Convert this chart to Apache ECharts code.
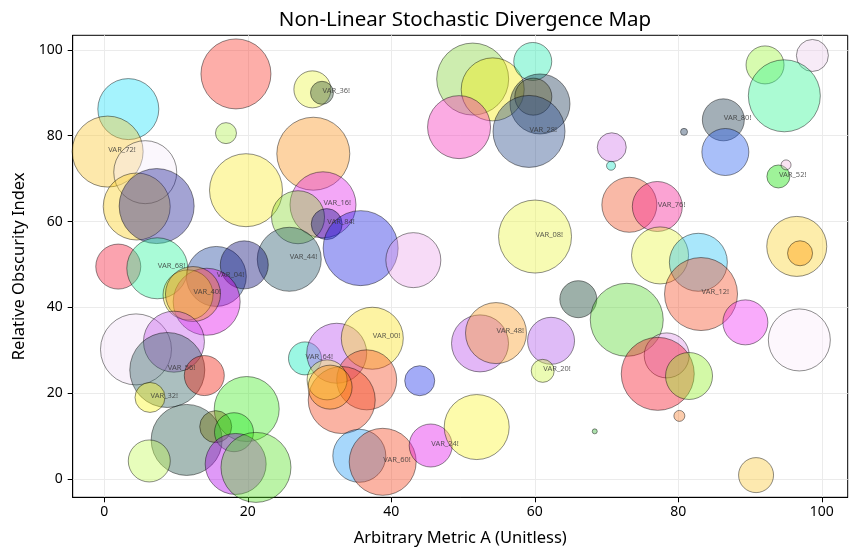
<!DOCTYPE html>
<html><head><meta charset="utf-8">
<script src="https://cdn.jsdelivr.net/npm/echarts@6/dist/echarts.min.js"></script>
<style>html,body{margin:0;padding:0;background:#fff}#c{width:857px;height:557px}</style>
</head><body><div id="c"></div>
<script>
const xValues = [18.35,3.35,0.47,5.71,4.52,7.30,16.96,19.75,29.0,30.34,29.13,30.48,27.0,31.0,25.78,35.73,43.07,1.95,7.39,15.61,19.51,14.27,11.67,12.36,4.42,9.71,8.78,13.94,6.37,19.85,11.48,15.53,18.08,6.27,18.31,21.14,27.97,32.39,37.35,36.57,33.09,31.05,31.47,43.96,35.54,38.8,45.49,51.9,52.36,54.59,62.26,61.1,66.06,51.34,54.13,49.44,59.71,60.72,59.79,59.19,60.03,92.08,98.68,94.77,86.27,86.55,80.79,70.72,70.62,93.94,95.01,73.17,77.07,96.5,96.96,77.45,82.79,83.16,89.34,72.81,78.38,77.13,81.49,96.86,80.14,68.35,90.83];
const yValues = [94.4,86.2,76.3,71.5,63.5,63.6,80.6,67.3,90.8,90.0,75.8,63.9,61.0,59.4,51.2,53.8,51.0,49.5,49.1,47.2,49.9,41.3,42.9,43.1,30.2,32.0,25.4,24.1,19.0,16.3,9.1,12.2,10.9,4.2,3.5,2.7,28.1,29.3,32.8,23.1,18.4,23.1,21.4,22.9,5.4,4.0,7.8,12.1,31.6,34.0,32.2,25.2,41.9,93.2,90.8,82.0,97.3,87.4,89.1,81.0,56.5,96.5,98.7,89.3,83.7,76.2,80.9,77.3,73.0,70.5,73.2,63.9,63.5,54.2,52.6,52.1,50.5,43.1,36.5,37.1,28.8,24.5,24.0,32.4,14.7,11.1,0.9];
const bubbleSizes = [70,61,71,63,67,75,21,73,37,23,73,66,53,31,64,75,55,45,61,60,48,67,50,55,71,61,75,40,30,65,71,32,39,42,61,70,33,60,62,60,67,40,44,30,53,67,43,65,57,61,47,23,37,72,63,63,38,60,37,72,73,38,32,72,42,47,7,29,9,23,10,55,50,60,25,57,58,73,45,73,45,73,47,62,11,5,35];
const bubbleColors = ['#f93527','#1fe1f9','#fbc52d','#f5ebfb','#fbcd19','#191991','#aff14b','#fbeb2d','#ebf541','#335533','#f99119','#e123eb','#87d72d','#10108a','#235569','#191fe1','#eba5eb','#f51937','#29f59b','#19419b','#050573','#e105eb','#f5e61e','#eb8719','#f1ddf5','#c355eb','#2d5f5f','#f31705','#fbf519','#41eb23','#23554b','#6b6b00','#1ee61e','#c3fb55','#af00eb','#55e123','#05ebb9','#b94bf1','#fbe119','#f3471f','#f34119','#f0f050','#ff8c00','#192deb','#239bf5','#f54119','#e10feb','#fbf52d','#b94beb','#f99b23','#af55eb','#cdf541','#0a3a28','#81d337','#f5eb05','#f52db9','#23ebaf','#193755','#5a5a28','#234587','#ebf541','#9bf537','#ebcdeb','#2df591','#19374b','#295ff1','#19375a','#d179eb','#1ee6c8','#0fe100','#f5b9e1','#f15123','#f51991','#fbd12d','#ff9900','#e9f541','#29c3f5','#f54b23','#f12df5','#55d72d','#dd91e7','#f50f23','#91f123','#f9ebf9','#f57d2d','#32b432','#fbc937'];
const bubbleLabels = ['','','VAR_72!','','','','','','','VAR_36!','','VAR_16!','','VAR_84!','VAR_44!','','','','VAR_68!','VAR_04!','','','','VAR_40!','','','VAR_56!','','VAR_32!','','','','','','','','VAR_64!','','VAR_00!','','','','','','','VAR_60!','VAR_24!','','','VAR_48!','','VAR_20!','','','','','','','','VAR_28!','VAR_08!','','','','VAR_80!','','','','','VAR_52!','','','VAR_76!','','','','','VAR_12!','','','','','','','','',''];
const xTicks = [0,20,40,60,80,100];
const yTicks = [0,20,40,60,80,100];

function rgba(hex, a){
  const n = parseInt(hex.slice(1),16);
  return 'rgba(' + ((n>>16)&255) + ',' + ((n>>8)&255) + ',' + (n&255) + ',' + a + ')';
}
const bubbleData = xValues.map((x,i)=>({
  value:[x, yValues[i], bubbleSizes[i]],
  itemStyle:{color: rgba(bubbleColors[i],0.5)}
}));
const labelData = [];
xValues.forEach((x,i)=>{ if(bubbleLabels[i]) labelData.push({value:[x,yValues[i]], name:bubbleLabels[i]}); });

const FONT = 'Noto Sans';
const chart = echarts.init(document.getElementById('c'), null, {renderer:'canvas'});
chart.setOption({
  animation:false,
  backgroundColor:'#fff',
  textStyle:{fontFamily:FONT},
  title:{text:'Non-Linear Stochastic Divergence Map', left:460, textAlign:'center', top:5,
    textStyle:{fontSize:20.5, fontWeight:'normal', color:'#000', fontFamily:FONT}},
  grid:{left:72.7, right:9.3, top:35.3, bottom:59.7, show:true, borderColor:'#000', borderWidth:1, backgroundColor:'transparent'},
  xAxis:{type:'value', min:-4.4, max:103.6,
    name:'Arbitrary Metric A (Unitless)', nameLocation:'middle', nameGap:32,
    nameTextStyle:{fontSize:16.5, color:'#000', fontFamily:FONT},
    axisLine:{show:true, onZero:false, lineStyle:{color:'#000'}},
    axisTick:{show:true, inside:false, length:5, customValues:xTicks, lineStyle:{color:'#000'}},
    axisLabel:{customValues:xTicks, fontSize:14, color:'#000', margin:8, fontFamily:FONT},
    splitLine:{show:true, lineStyle:{color:'#ebebeb', width:1}}},
  yAxis:{type:'value', min:-4.27, max:103.4,
    name:'Relative Obscurity Index', nameLocation:'middle', nameGap:45,
    nameTextStyle:{fontSize:16.5, color:'#000', fontFamily:FONT},
    axisLine:{show:true, onZero:false, lineStyle:{color:'#000'}},
    axisTick:{show:true, inside:false, length:5, customValues:yTicks, lineStyle:{color:'#000'}},
    axisLabel:{customValues:yTicks, fontSize:14, color:'#000', margin:10, fontFamily:FONT},
    splitLine:{show:true, lineStyle:{color:'#ebebeb', width:1}}},
  series:[
    {type:'scatter', data:bubbleData, symbolSize:(v)=>v[2],
      itemStyle:{borderColor:'rgba(0,0,0,0.55)', borderWidth:1}, silent:true, z:2},
    {type:'scatter', data:labelData, symbolSize:1, itemStyle:{color:'rgba(0,0,0,0)'}, silent:true, z:5,
      label:{show:true, formatter:(p)=>p.name, position:'right', distance:0, offset:[0,-2],
        fontSize:7.5, color:'#333', fontFamily:FONT}}
  ]
});
</script>
</body></html>
